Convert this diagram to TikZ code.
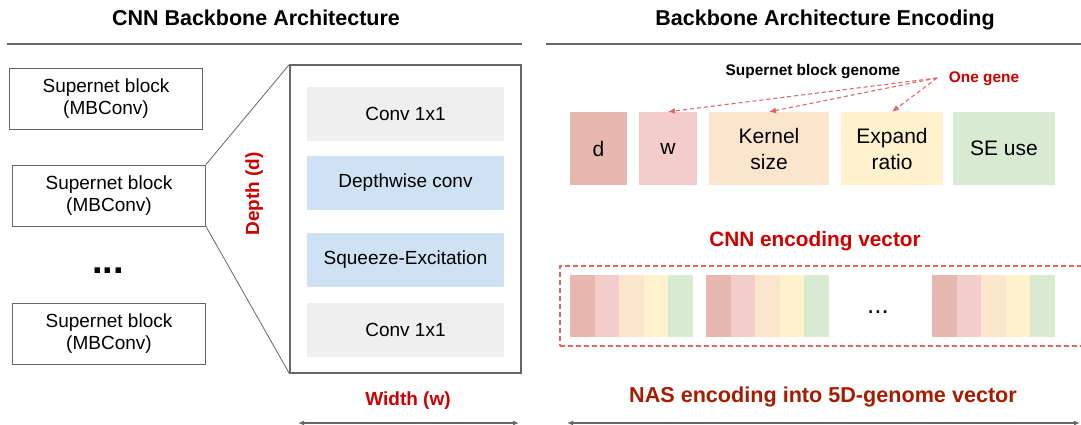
\documentclass[tikz,border=0pt]{standalone}
\usepackage{fontspec}
\setmainfont{Liberation Sans}
\usetikzlibrary{arrows.meta}

\definecolor{linegray}{HTML}{666666}
\definecolor{layergray}{HTML}{EFEFEF}
\definecolor{layerblue}{HTML}{CFE2F3}
\definecolor{geneD}{HTML}{E6B8AF}
\definecolor{geneW}{HTML}{F4CCCC}
\definecolor{geneK}{HTML}{FCE5CD}
\definecolor{geneE}{HTML}{FFF2CC}
\definecolor{geneS}{HTML}{D9EAD3}
\definecolor{redtxt}{HTML}{CC0000}
\definecolor{nastxt}{HTML}{A61C00}
\definecolor{dashred}{HTML}{E06666}

\begin{document}
\begin{tikzpicture}[x=1pt,y=-1pt,
    lbl/.style={font=\fontsize{19}{22}\selectfont, align=center},
    blk/.style={lbl, draw=linegray, line width=0.9pt, minimum width=193pt, minimum height=61pt, inner sep=0pt},
    layer/.style={lbl, minimum width=197pt, minimum height=54pt, inner sep=0pt},
    gene/.style={font=\fontsize{21}{26}\selectfont, align=center, minimum height=73pt, inner sep=0pt},
    cell/.style={minimum width=24.6pt, minimum height=62pt, inner sep=0pt},
    heading/.style={font=\bfseries\fontsize{21.5}{24}\selectfont, anchor=base},
    redlbl/.style={text=redtxt, font=\bfseries\fontsize{19}{22}\selectfont},
    rule/.style={linegray, line width=1.3pt},
    span/.style={rule, {Latex[length=6pt,width=5pt]}-{Latex[length=6pt,width=5pt]}},
    genearrow/.style={dashred, dash pattern=on 4pt off 3pt, line width=1.1pt, -{Latex[length=7pt,width=6pt]}},
]
    \useasboundingbox (0,0) rectangle (1081,425);

    \coordinate (R1) at (7,44);
    \coordinate (R2) at (522,44);
    \coordinate (R3) at (546,44);
    \coordinate (R4) at (1081,44);
    \coordinate (W1) at (298,423);
    \coordinate (W2) at (519,423);
    \coordinate (N1) at (567,423);
    \coordinate (N2) at (1080,423);
    \coordinate (G0) at (937,78);

    \draw[rule] (R1) -- (R2);
    \draw[rule] (R3) -- (R4);

%backbone
    \node[blk] (blk1) at (106,98.5) {Supernet block\\(MBConv)};
    \node[blk] (blk2) at (109,195.5) {Supernet block\\(MBConv)};
    \node[blk] (blk3) at (109,334) {Supernet block\\(MBConv)};
    \node[font=\bfseries\fontsize{38}{38}\selectfont, anchor=base] (vdots) at (108,273) {...};

    \node[draw=linegray, line width=1.2pt, minimum width=231pt, minimum height=308pt, inner sep=0pt] (mb) at (405.5,219) {};
    \node[layer, fill=layergray] (conv1) at (405.5,114) {Conv 1x1};
    \node[layer, fill=layerblue] (dwconv) at (405.5,182.5) {Depthwise conv};
    \node[layer, fill=layerblue] (sqex) at (405.5,260) {Squeeze-Excitation};
    \node[layer, fill=layergray] (conv2) at (405.5,330) {Conv 1x1};

    \draw[linegray, line width=0.8pt] (blk2.north east) -- (mb.north west);
    \draw[linegray, line width=0.8pt] (blk2.south east) -- (mb.south west);

%encoding
    \node[gene, fill=geneD, minimum width=57pt] (gd) at (598.5,148.5) {d};
    \node[gene, fill=geneW, minimum width=58pt] (gw) at (668,148.5) {w};
    \node[gene, fill=geneK, minimum width=120pt] (gk) at (769,148.5) {Kernel\\size};
    \node[gene, fill=geneE, minimum width=102pt] (ge) at (892,148.5) {Expand\\ratio};
    \node[gene, fill=geneS, minimum width=102pt] (gs) at (1004,148.5) {SE use};

    \draw[genearrow] (G0) -- (gw.north);
    \draw[genearrow] (G0) -- (gk.north);
    \draw[genearrow] (G0) -- (ge.north);

    \node[draw=dashred, dash pattern=on 5pt off 3pt, line width=1.2pt, minimum width=525pt, minimum height=80pt, inner sep=0pt] (vec) at (822.5,306) {};
    \foreach \g/\x in {1/570, 2/706, 3/932} {
        \foreach \col [count=\i] in {geneD,geneW,geneK,geneE,geneS}
            \node[cell, fill=\col] (v\g-\i) at ({\x+(\i-0.5)*24.6},306) {};
    }
    \node[font=\fontsize{26}{26}\selectfont, anchor=base] (hdots) at (878,313) {...};

%labels
    \node[heading] (titleL) at (256,25.5) {CNN Backbone Architecture};
    \node[heading] (titleR) at (825,25.5) {Backbone Architecture Encoding};
    \node[redlbl, rotate=90, anchor=base] (depth) at (259,194) {Depth (d)};
    \node[redlbl, anchor=base] (width) at (408,405) {Width (w)};
    \node[font=\bfseries\fontsize{15.4}{18}\selectfont, anchor=base] (genome) at (813,76) {Supernet block genome};
    \node[text=redtxt, font=\bfseries\fontsize{15.4}{18}\selectfont, anchor=base] (onegene) at (984,82.5) {One gene};
    \node[text=redtxt, font=\bfseries\fontsize{20.8}{24}\selectfont, anchor=base] (cnnvec) at (815,246.5) {CNN encoding vector};
    \node[text=nastxt, font=\bfseries\fontsize{21.6}{24}\selectfont, anchor=base] (nas) at (823,402.5) {NAS encoding into 5D-genome vector};

    \draw[span] (W1) -- (W2);
    \draw[span] (N1) -- (N2);

\end{tikzpicture}
\end{document}
